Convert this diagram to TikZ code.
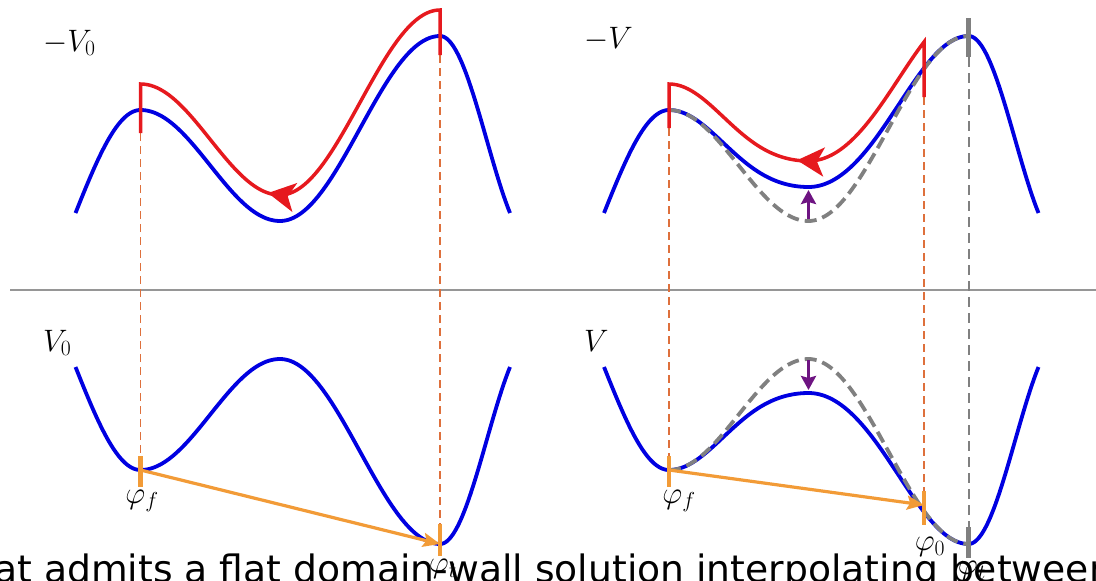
\RequirePackage{fix-cm}
\documentclass[tikz,border=0pt]{standalone}
\usepackage{fontspec}
\newfontfamily\captionfont{DejaVu Sans}
\usetikzlibrary{arrows.meta}
\definecolor{cblue}{RGB}{0,0,225}
\definecolor{cred}{RGB}{230,25,30}
\definecolor{corange}{RGB}{242,155,55}
\definecolor{cdash}{RGB}{222,112,60}
\definecolor{cpurple}{RGB}{110,20,130}
\definecolor{cgray}{RGB}{128,128,128}
\definecolor{cline}{RGB}{150,150,150}
\begin{document}
\begin{tikzpicture}[x=1pt,y=-1pt,samples=60,
 declare function={
  segA(\x)=470-103*(1-cos((140.5-\x)/65*90));
  segB(\x)=414.5+55.5*cos((\x-140.5)/139.5*180);
  segC(\x)=451.5-92.5*cos((\x-280)/160*180);
  segD(\x)=544-177*(1-cos((\x-440)/70*135))/1.7071;
  bumpB(\x)=34*((1-cos((\x-140.5)/139.5*180))/2)^2;
  bumpC(\x)=34*((1+cos((\x-280)/160*180))/2)^2;
 },
 pot/.style={cblue,line width=3.8pt,line join=round},
 oldpot/.style={cgray,line width=3.8pt,dash pattern=on 12pt off 6pt},
 redpath/.style={cred,line width=3.5pt},
 redflow/.style={redpath,-{Stealth[length=27pt,width=29pt,inset=7pt]}},
 guide/.style={cdash,line width=1.8pt,dash pattern=on 8pt off 5pt},
 grayguide/.style={cgray,line width=2pt,dash pattern=on 10pt off 6pt},
 vtick/.style={corange,line width=4.8pt},
 graytick/.style={cgray,line width=4.8pt},
 flow/.style={corange,line width=3.2pt,-{Stealth[length=17pt,width=14pt,inset=3pt]}},
 push/.style={cpurple,line width=3.2pt,-{Stealth[length=14pt,width=15pt,inset=2pt]}},
 lab/.style={inner sep=0pt,font=\fontsize{31}{33}\selectfont},
]
\useasboundingbox (0,0) rectangle (1096,581);
\clip (0,0) rectangle (1096,581);

% separator
\draw[cline,line width=1.8pt] (10,290) -- (1096,290);

% key points
\coordinate (fL) at (140.5,470);
\coordinate (tL) at (440,544);
\coordinate (fR) at (669,470);
\coordinate (zR) at (924,505);
\coordinate (tR) at (968.5,544);

% guides
\draw[guide] (140.5,133) -- (140.5,456);
\draw[guide] (440,55) -- (440,524);
\draw[guide] (669,128) -- (669,456);
\draw[guide] (924,97) -- (924,491);
\draw[grayguide] (968.5,57) -- (968.5,527);

% -V0 (top left)
\draw[pot] plot[domain=75.5:140.5] (\x,{580-segA(\x)})
  -- plot[domain=140.5:280] (\x,{580-segB(\x)})
  -- plot[domain=280:440] (\x,{580-segC(\x)})
  -- plot[domain=440:510] (\x,{580-segD(\x)});
% V0 (bottom left)
\draw[pot] plot[domain=75.5:140.5] (\x,{segA(\x)})
  -- plot[domain=140.5:280] (\x,{segB(\x)})
  -- plot[domain=280:440] (\x,{segC(\x)})
  -- plot[domain=440:510] (\x,{segD(\x)});
% -V (top right)
\draw[pot] plot[domain=604:669] (\x,{580-segA(\x-528.5)})
  -- plot[domain=669:808.5] (\x,{580-segB(\x-528.5)-bumpB(\x-528.5)})
  -- plot[domain=808.5:968.5] (\x,{580-segC(\x-528.5)-bumpC(\x-528.5)})
  -- plot[domain=968.5:1038.5] (\x,{580-segD(\x-528.5)});
% V (bottom right)
\draw[pot] plot[domain=604:669] (\x,{segA(\x-528.5)})
  -- plot[domain=669:808.5] (\x,{segB(\x-528.5)+bumpB(\x-528.5)})
  -- plot[domain=808.5:968.5] (\x,{segC(\x-528.5)+bumpC(\x-528.5)})
  -- plot[domain=968.5:1038.5] (\x,{segD(\x-528.5)});

% old potentials (dashed gray)
\draw[oldpot] plot[domain=669:808.5] (\x,{580-segB(\x-528.5)})
  -- plot[domain=808.5:968.5] (\x,{580-segC(\x-528.5)});
\draw[oldpot] plot[domain=669:808.5] (\x,{segB(\x-528.5)})
  -- plot[domain=808.5:968.5] (\x,{segC(\x-528.5)});

% red trajectories
\draw[redpath] (140.5,133) -- plot[domain=140.5:280] (\x,{554-segB(\x)});
\draw[redflow] (440,55) -- plot[domain=440:280] (\x,{554-segC(\x)})
  -- plot[domain=280:268,samples=2] (\x,{554-segB(\x)});
\draw[redpath] (669,128) -- plot[domain=669:808] (\x,{554-segB(\x-528.5)-bumpB(\x-528.5)});
\draw[redflow] (924,97) -- plot[domain=924:808.5] (\x,{554-segC(\x-528.5)-bumpC(\x-528.5)})
  -- plot[domain=808.5:797,samples=2] (\x,{554-segB(\x-528.5)-bumpB(\x-528.5)});

% purple shifts
\draw[push] (808.5,219) -- (808.5,190);
\draw[push] (808.5,360) -- (808.5,390);

% gray ticks at phi_t
\draw[graytick] (968.5,18) -- (968.5,57);
\draw[graytick] (968.5,527) -- (968.5,558);

% orange ticks and arrows
\draw[vtick] (140.5,456) -- (140.5,487);
\draw[vtick] (440,524) -- (440,556);
\draw[vtick] (669,456) -- (669,487);
\draw[vtick] (924,491) -- (924,525);
\draw[flow] (fL) -- (tL);
\draw[flow] (fR) -- (zR);

% labels
\node[lab,anchor=base west] (lV0t) at (43,51) {$-V_0$};
\node[lab,anchor=base west] (lVt) at (584,48) {$-V$};
\node[lab,anchor=base west] (lV0b) at (43,351) {$V_0$};
\node[lab,anchor=base west] (lVb) at (584,351) {$V$};
\node[lab] (pf1) at (142,501) {$\varphi_f$};
\node[lab] (pf2) at (679,501) {$\varphi_f$};
\node[lab] (p0) at (930,547) {$\varphi_0$};
\node[lab] (pt1) at (443,569) {$\varphi_t$};
\node[lab] (pt2) at (972,571) {$\varphi_t$};

% caption fragment
\node[anchor=base west,inner sep=0pt,font=\captionfont\fontsize{37.7}{40}\selectfont] (cap) at (-6,582) {at admits a flat domain-wall solution interpolating between};
\end{tikzpicture}
\end{document}
